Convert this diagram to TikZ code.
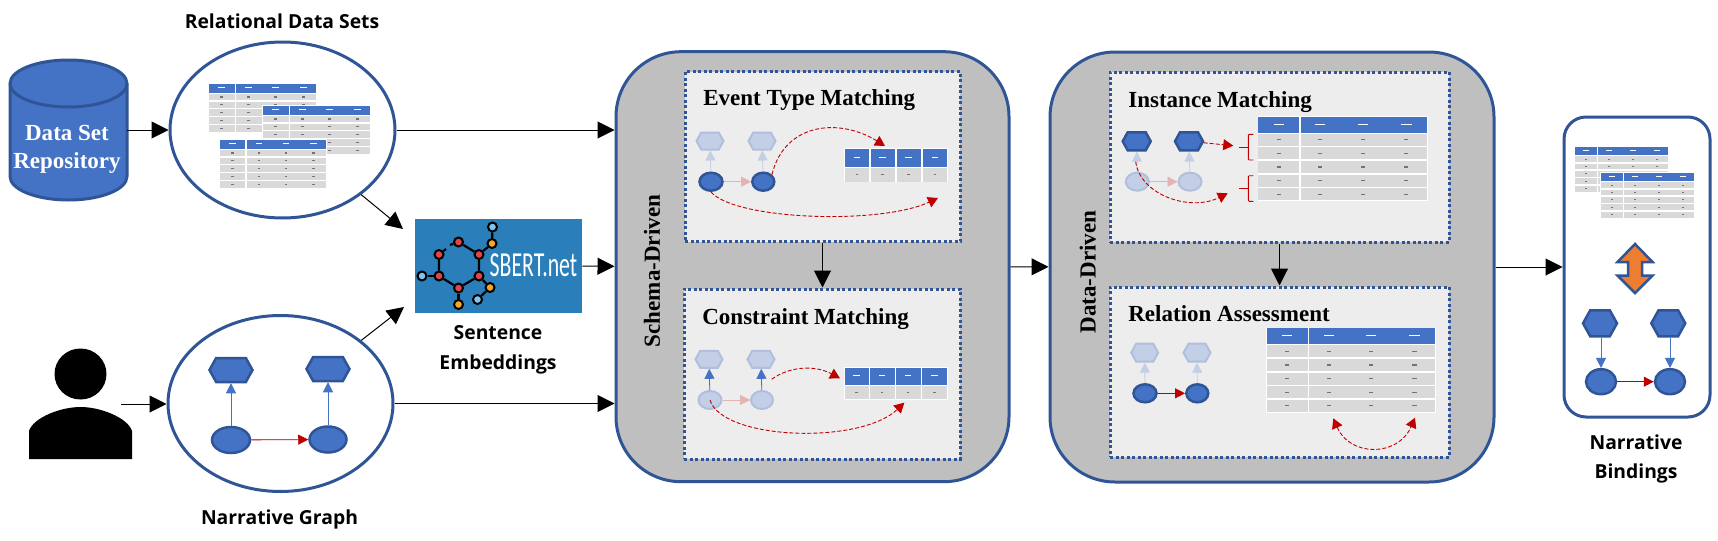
\documentclass[tikz,border=0pt]{standalone}
\usepackage{fontspec}
\setmainfont{Liberation Serif}
\newfontfamily\labelfont{Open Sans}
\newfontfamily\logofont{Carlito}
\usetikzlibrary{arrows.meta,shapes.geometric,shapes.symbols,positioning}
\newdimen\pxu
\pxu=0.02cm
\definecolor{panelblue}{HTML}{2F5597}
\definecolor{fillblue}{HTML}{4472C4}
\definecolor{paleblue}{HTML}{C3CFE6}
\definecolor{paleline}{HTML}{B0BFDC}
\definecolor{darkred}{HTML}{C00000}
\definecolor{palered}{HTML}{E6B3B3}
\definecolor{boxgray}{HTML}{BFBFBF}
\definecolor{panelgray}{HTML}{EDEDED}
\definecolor{cellgray}{HTML}{D9D9D9}
\definecolor{logoblue}{HTML}{2A7FBA}
\definecolor{logored}{HTML}{E2444C}
\definecolor{logoamber}{HTML}{F5A623}
\definecolor{logosky}{HTML}{7EC4EF}
\definecolor{arrowfill}{HTML}{ED7D31}
\tikzset{flowarrow/.style={draw=black,line width=1\pxu,-{Triangle[length=0.34cm,width=0.34cm]}},
    bigbox/.style={draw=panelblue,fill=boxgray,line width=3\pxu,rounded corners=65\pxu,minimum width=393\pxu,minimum height=430\pxu},
    innerpanel/.style={draw=panelblue,fill=panelgray,line width=3\pxu,dash pattern=on 3\pxu off 2.5\pxu,minimum height=170\pxu},
    roundel/.style={draw=panelblue,fill=white,line width=3\pxu,ellipse,minimum width=225\pxu,minimum height=176\pxu,inner sep=0},
    hexa/.style 2 args={signal,signal to=west and east,signal pointer angle=122,minimum width=#1\pxu,minimum height=#2\pxu,inner sep=0},
    oval/.style 2 args={ellipse,minimum width=#1\pxu,minimum height=#2\pxu,inner sep=0},
    strong/.style={draw=panelblue,fill=fillblue,line width=2.5\pxu},
    faint/.style={draw=paleline,fill=paleblue,line width=2\pxu},
    uparrow/.style={line width=0.8\pxu,-{Triangle[length=0.2cm,width=0.2cm]}},
    redcurve/.style={draw=darkred,line width=0.9\pxu,dash pattern=on 4\pxu off 2\pxu,-{Triangle[length=0.2cm,width=0.22cm]}},
    titletext/.style={font=\bfseries\fontsize{13.1}{16}\selectfont,anchor=base west,inner sep=0},
    sidetext/.style={font=\bfseries\fontsize{13.1}{16}\selectfont,rotate=90,inner sep=0},
    sanslabel/.style={font=\labelfont\bfseries\fontsize{11}{17}\selectfont,align=center,inner sep=0},
    logoatom/.style={circle,draw=black,line width=2\pxu,inner sep=0,minimum size=9\pxu},
    logobond/.style={draw=black,line width=2.2\pxu}}

% name, left, top, width, height, rows, separators
\newcommand\minitable[7]
{
    \node (#1) [fill=white,inner sep=0,minimum width=#4\pxu,minimum height=#5\pxu,anchor=north west] at (#2,#3) {};
    \begin{scope}[shift={(#1.north west)}]
        \pgfmathsetmacro\cellh{#5/(#6+1.25)}
        \fill [fillblue] (1,1) rectangle (#4-1,1.25*\cellh);
        \foreach \rowindex in {1,...,#6}
        {
            \pgfmathsetmacro\rowtop{1.25*\cellh+(\rowindex-1)*\cellh+1}
            \pgfmathsetmacro\rowbot{1.25*\cellh+\rowindex*\cellh-0.5}
            \fill [cellgray] (1,\rowtop) rectangle (#4-1,\rowbot);
            \foreach \colpos in {0.125,0.37,0.62,0.875}
                \fill [black!55] (\colpos*#4-0.012*#4,{\rowtop/2+\rowbot/2-0.6}) rectangle (\colpos*#4+0.012*#4,{\rowtop/2+\rowbot/2+0.6});
        }
        \foreach \colpos in {0.125,0.37,0.62,0.875}
            \fill [white] (\colpos*#4-0.03*#4,0.62*\cellh-0.6) rectangle (\colpos*#4+0.03*#4,0.62*\cellh+0.6);
        \foreach \seppos in {#7}
            \fill [white] (\seppos*#4-0.6,0) rectangle (\seppos*#4+0.6,#5);
    \end{scope}
}

\begin{document}
\begin{tikzpicture}[x=0.02cm,y=-0.02cm]

\useasboundingbox (0,0) rectangle (1718,541);

% left column
\node (repo) [inner sep=0,minimum width=117\pxu,minimum height=140\pxu] at (68.5,130) {};
\draw [draw=panelblue,fill=fillblue,line width=3\pxu] (10,83.5) -- (10,176.5) arc [start angle=180,end angle=0,x radius=58.5,y radius=23.5] -- (127,83.5) arc [start angle=0,end angle=-180,x radius=58.5,y radius=23.5] -- cycle;
\draw [draw=panelblue,line width=3\pxu] (10,83.5) arc [start angle=180,end angle=0,x radius=58.5,y radius=23.5];
\node (repotext) [font=\bfseries\fontsize{13.1}{16}\selectfont,text=white,align=center,inner sep=0] at (67,149) {Data Set\\Repository};

\node (reldata) [roundel] at (282.5,130) {};
\node (narrgraph) [roundel] at (280.5,403.5) {};
\node (reltitle) [sanslabel] at (282,21) {Relational Data Sets};
\node (narrtitle) [sanslabel] at (279.5,519) {Narrative Graph};

\minitable{tbla}{208}{83}{109}{49}{5}{0.25}
\minitable{tblb}{262}{105}{109}{49}{5}{0.25}
\minitable{tblc}{219}{139}{108}{49}{5}{0.25}

\node (head) [oval={52}{51},fill=black] at (80.5,374) {};
\fill (29,459) -- (29,431) .. controls (33,418) and (60,407) .. (80.5,407) .. controls (101,407) and (128,418) .. (132,431) -- (132,459) -- cycle;
\coordinate (personout) at (121,404);

% narrative graph
\node (ng1) [hexa={43}{24},strong] at (231,370) {};
\node (ng2) [hexa={43}{24},strong] at (328,369) {};
\node (ne1) [oval={38}{26},strong] at (231,440) {};
\node (ne2) [oval={37}{26},strong] at (328,439.5) {};
\draw [uparrow,draw=fillblue,fill=fillblue] (ne1) -- (ng1);
\draw [uparrow,draw=fillblue,fill=fillblue] (ne2) -- (ng2);
\draw [uparrow,draw=darkred,fill=darkred] (ne1) -- (ne2);

% logo
\node (logo) [fill=logoblue,inner sep=0,minimum width=167\pxu,minimum height=94\pxu] at (498.5,266) {};
\foreach \atomname/\atomx/\atomy/\atomcol in {m1/458.5/242/logored,m2/479/254.5/logored,m3/479/276/logored,m4/458.5/288/logored,m5/439/276/logored,m6/439/254.5/logored,m7/492/243.5/logoamber,m8/458.5/304.5/logoamber,m9/490/287.5/logoamber,m10/492.5/227/logosky,m11/422/276/logosky,m12/477.5/299.5/logosky}
{
    \node (\atomname) [logoatom,fill=\atomcol] at (\atomx,\atomy) {};
}
\draw [logobond] (m1) -- (m2) -- (m3) -- (m4) -- (m5) -- (m6);
\draw [logobond] (m2) -- (m7) -- (m10);
\draw [logobond] (m3) -- (m9) -- (m12);
\draw [logobond] (m4) -- (m8);
\draw [logobond] (m5) -- (m11);
\draw [logobond] (m6) -- (446,249);
\draw [logobond] (450,245) -- (m1);
\node (sbert) [font=\logofont\fontsize{20}{20}\selectfont,text=white,xscale=0.62,inner sep=0] at (533.5,265) {SBERT.net};
\node (embedtitle) [sanslabel] at (498,350) {Sentence\\Embeddings};

% schema-driven box
\node (schema) [bigbox] at (812.5,266.7) {};
\node (schematext) [sidetext] at (652,271) {Schema-Driven};
\node (evpanel) [innerpanel,minimum width=275\pxu] at (822.5,156.7) {};
\node (cnpanel) [innerpanel,minimum width=276\pxu] at (822,374) {};
\node (evtitle) [titletext] at (703,105) {Event Type Matching};
\node (cntitle) [titletext] at (702,324) {Constraint Matching};

\node (evh1) [hexa={27}{17},faint] at (710,141) {};
\node (evh2) [hexa={27}{17},faint] at (762,141) {};
\node (eve1) [oval={23}{18},strong] at (711,181.7) {};
\node (eve2) [oval={22}{18},strong] at (763.3,181.7) {};
\draw [uparrow,draw=paleblue,fill=paleblue] (eve1) -- (evh1);
\draw [uparrow,draw=paleblue,fill=paleblue] (eve2) -- (evh2);
\draw [uparrow,draw=palered,fill=palered] (eve1) -- (eve2);
\minitable{evtbl}{844}{148}{104}{34}{1}{0.25,0.5,0.75}
\coordinate (evend1) at (885,146);
\coordinate (evend2) at (938,198);
\draw [redcurve,fill=none] (eve2.north east) .. controls (785,122) and (840,118) .. (evend1);
\draw [redcurve,fill=none] (eve1.south) .. controls (735,220) and (880,225) .. (evend2);

\node (cnh1) [hexa={27}{17},faint] at (709,359.3) {};
\node (cnh2) [hexa={27}{17},faint] at (761,359.3) {};
\node (cne1) [oval={23}{18},faint] at (710,400) {};
\node (cne2) [oval={22}{18},faint] at (762,400) {};
\draw [uparrow,draw=fillblue,fill=fillblue] (cne1) -- (cnh1);
\draw [uparrow,draw=fillblue,fill=fillblue] (cne2) -- (cnh2);
\draw [uparrow,draw=palered,fill=palered] (cne1) -- (cne2);
\minitable{cntbl}{843.5}{366.7}{104}{33}{1}{0.25,0.5,0.75}
\coordinate (cnstart) at (771.7,379.3);
\coordinate (cnend1) at (840,378.3);
\coordinate (cnend2) at (904.3,402.7);
\draw [redcurve,fill=none] (cnstart) .. controls (790,366) and (815,365) .. (cnend1);
\draw [redcurve,fill=none] (cne1.center) .. controls (722,440) and (860,445) .. (cnend2);

% data-driven box
\node (datadriven) [bigbox,minimum width=444\pxu] at (1272,267) {};
\node (datatext) [sidetext] at (1087.7,272) {Data-Driven};
\node (impanel) [innerpanel,minimum width=339\pxu] at (1279.5,157.3) {};
\node (rapanel) [innerpanel,minimum width=339\pxu] at (1279.5,372) {};
\node (imtitle) [titletext] at (1128,107) {Instance Matching};
\node (ratitle) [titletext] at (1128,321) {Relation Assessment};

\node (imh1) [hexa={28}{18},strong] at (1136.7,141.3) {};
\node (imh2) [hexa={28}{18},strong] at (1189,141.3) {};
\node (ime1) [oval={23}{18},faint] at (1137.3,181.7) {};
\node (ime2) [oval={23}{18},faint] at (1190,181.7) {};
\draw [uparrow,draw=paleblue,fill=paleblue] (ime1) -- (imh1);
\draw [uparrow,draw=paleblue,fill=paleblue] (ime2) -- (imh2);
\draw [uparrow,draw=palered,fill=palered] (ime1) -- (ime2);
\minitable{imtbl}{1257.3}{115.7}{170.4}{85}{5}{0.25}
\coordinate (imstart) at (1135.7,161.7);
\coordinate (imend1) at (1233.3,145.7);
\coordinate (imend2) at (1227.7,193.3);
\draw [redcurve,fill=none] (imh2) -- (imend1);
\draw [redcurve,fill=none] (imstart) .. controls (1140,195) and (1190,212) .. (imend2);
\foreach \bracetop/\bracemid/\bracebot in {134.3/147.3/160,175.7/188.3/201.3}
{
    \draw [darkred,line width=0.9\pxu,rounded corners=1\pxu] (1253.3,\bracetop) -- (1248.3,\bracetop) -- (1248.3,\bracebot) -- (1253.3,\bracebot);
    \draw [darkred,line width=0.9\pxu] (1239.3,\bracemid) -- (1248.3,\bracemid);
}

\node (rah1) [hexa={27}{18},faint] at (1144.7,352.7) {};
\node (rah2) [hexa={27}{18},faint] at (1197,352.7) {};
\node (rae1) [oval={23}{18},strong] at (1145,393.3) {};
\node (rae2) [oval={22}{18},strong] at (1197.3,393.3) {};
\draw [uparrow,draw=paleblue,fill=paleblue] (rae1) -- (rah1);
\draw [uparrow,draw=paleblue,fill=paleblue] (rae2) -- (rah2);
\draw [uparrow,draw=darkred,fill=darkred] (rae1) -- (rae2);
\minitable{ratbl}{1265.7}{327.3}{170}{85}{5}{0.25}
\coordinate (raend1) at (1333.3,418.3);
\coordinate (raend2) at (1415,417.7);
\draw [redcurve,fill=none,{Triangle[length=0.2cm,width=0.22cm]}-{Triangle[length=0.2cm,width=0.22cm]}] (raend1) .. controls (1350,457) and (1398,457) .. (raend2);

% bindings box
\node (bindings) [draw=panelblue,line width=3\pxu,rounded corners=22\pxu,minimum width=146\pxu,minimum height=300\pxu] at (1637,267) {};
\minitable{bnda}{1574}{146}{95}{46}{5}{0.25}
\minitable{bndb}{1600}{172}{95}{46}{5}{0.25}
\draw [draw=panelblue,fill=arrowfill,line width=2.5\pxu] (1635,244) -- (1652.5,262) -- (1642,262) -- (1642,275.5) -- (1652.5,275.5) -- (1635,293) -- (1617.5,275.5) -- (1628,275.5) -- (1628,262) -- (1617.5,262) -- cycle;
\node (bdh1) [hexa={34}{26},strong] at (1600,323.3) {};
\node (bdh2) [hexa={34}{26},strong] at (1668.3,323.3) {};
\node (bde1) [oval={30}{25},strong] at (1601,381.7) {};
\node (bde2) [oval={30}{25},strong] at (1670,381.7) {};
\draw [uparrow,draw=fillblue,fill=fillblue] (bde1 |- bdh1.south) -- (bde1);
\draw [uparrow,draw=fillblue,fill=fillblue] (bde2 |- bdh2.south) -- (bde2);
\draw [uparrow,draw=darkred,fill=darkred] (bde1) -- (bde2);
\node (bindtitle) [sanslabel] at (1636,459) {Narrative\\Bindings};

% connectors
\coordinate (sbin1) at (403,229);
\coordinate (sbin2) at (404,307);
\draw [flowarrow] (repo) -- (reldata);
\draw [flowarrow] (personout) -- (personout -| narrgraph.west);
\draw [flowarrow] (reldata.east) -- (reldata.east -| schema.west);
\draw [flowarrow] (narrgraph.east) -- (narrgraph.east -| schema.west);
\draw [flowarrow] (reldata) -- (sbin1);
\draw [flowarrow] (narrgraph) -- (sbin2);
\draw [flowarrow] (logo) -- (schema);
\draw [flowarrow] (schema) -- (datadriven);
\draw [flowarrow] (datadriven) -- (bindings);
\draw [flowarrow] (evpanel) -- (cnpanel.north -| evpanel);
\draw [flowarrow] (impanel) -- (rapanel);

\end{tikzpicture}
\end{document}
